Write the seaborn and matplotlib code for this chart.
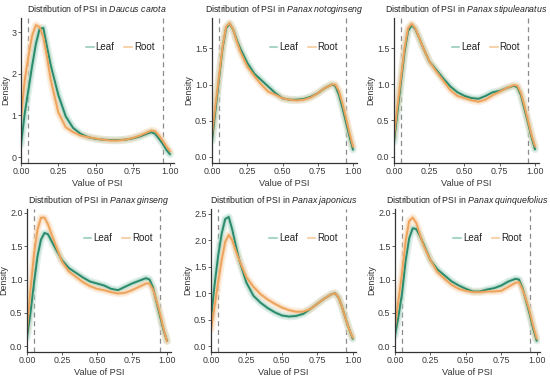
import numpy as np
import pandas as pd
import matplotlib
matplotlib.use("Agg")
import matplotlib.pyplot as plt
import seaborn as sns
from matplotlib.lines import Line2D

sns.set_theme(style="ticks")
plt.rcParams['font.family'] = ['Liberation Sans', 'DejaVu Sans']
plt.rcParams['mathtext.fontset'] = 'custom'
plt.rcParams['mathtext.rm'] = 'Liberation Sans'
plt.rcParams['mathtext.it'] = 'Liberation Sans:italic'

# ---------------- data ----------------
psi = [0, 0.025, 0.05, 0.075, 0.1, 0.125, 0.15, 0.175, 0.2, 0.25, 0.3, 0.35,
       0.4, 0.45, 0.5, 0.55, 0.6, 0.65, 0.7, 0.75, 0.8, 0.85, 0.875, 0.9,
       0.925, 0.95, 0.975, 1.0]

species = ["Daucus carota", "Panax notoginseng", "Panax stipuleanatus",
           "Panax ginseng", "Panax japonicus", "Panax quinquefolius"]
tissues = ["Leaf", "Root"]

daucus_leaf = [0.30, 1.05, 1.62, 2.20, 2.72, 3.08, 3.10, 2.64, 2.20, 1.50, 0.98, 0.70,
               0.56, 0.48, 0.44, 0.42, 0.41, 0.41, 0.42, 0.45, 0.50, 0.57, 0.60, 0.56,
               0.45, 0.33, 0.18, 0.07]
daucus_root = [0.95, 1.85, 2.42, 2.92, 3.17, 3.12, 2.88, 2.40, 1.85, 1.08, 0.72, 0.60,
               0.52, 0.48, 0.45, 0.42, 0.40, 0.40, 0.42, 0.46, 0.52, 0.60, 0.64, 0.62,
               0.52, 0.40, 0.26, 0.14]

noto_leaf = [0.22, 0.65, 1.08, 1.50, 1.78, 1.84, 1.76, 1.62, 1.50, 1.30, 1.15, 1.06,
             0.97, 0.88, 0.81, 0.79, 0.79, 0.80, 0.83, 0.88, 0.95, 1.00, 0.98, 0.86,
             0.68, 0.48, 0.28, 0.10]
noto_root = [0.30, 0.72, 1.12, 1.52, 1.80, 1.85, 1.76, 1.60, 1.46, 1.25, 1.12, 1.00,
             0.90, 0.86, 0.81, 0.79, 0.78, 0.79, 0.82, 0.88, 0.95, 1.00, 1.00, 0.91,
             0.74, 0.54, 0.33, 0.14]

stip_leaf = [0.20, 0.62, 1.04, 1.45, 1.74, 1.82, 1.77, 1.66, 1.54, 1.32, 1.20, 1.08,
             0.97, 0.89, 0.84, 0.81, 0.80, 0.84, 0.89, 0.91, 0.95, 0.98, 0.96, 0.85,
             0.66, 0.47, 0.27, 0.10]
stip_root = [0.27, 0.70, 1.10, 1.50, 1.78, 1.84, 1.78, 1.66, 1.54, 1.32, 1.18, 1.05,
             0.92, 0.84, 0.81, 0.78, 0.76, 0.79, 0.85, 0.90, 0.95, 0.99, 0.98, 0.88,
             0.70, 0.50, 0.30, 0.14]

gins_leaf = [0.13, 0.50, 0.95, 1.35, 1.60, 1.70, 1.68, 1.58, 1.48, 1.29, 1.17, 1.10,
             1.03, 0.97, 0.94, 0.91, 0.86, 0.84, 0.89, 0.94, 0.98, 1.02, 1.00, 0.88,
             0.66, 0.45, 0.24, 0.08]
gins_root = [0.22, 0.85, 1.38, 1.75, 1.93, 1.93, 1.83, 1.68, 1.54, 1.27, 1.12, 1.04,
             0.96, 0.90, 0.86, 0.84, 0.81, 0.79, 0.80, 0.84, 0.89, 0.94, 0.94, 0.85,
             0.68, 0.49, 0.26, 0.07]

japo_leaf = [0.52, 1.15, 1.70, 2.12, 2.40, 2.44, 2.20, 1.90, 1.62, 1.20, 0.95, 0.82,
             0.72, 0.64, 0.58, 0.56, 0.57, 0.61, 0.70, 0.80, 0.90, 0.98, 1.00, 0.92,
             0.74, 0.52, 0.32, 0.14]
japo_root = [0.32, 0.75, 1.20, 1.62, 1.97, 2.10, 2.00, 1.80, 1.62, 1.30, 1.12, 0.98,
             0.88, 0.80, 0.73, 0.68, 0.65, 0.65, 0.70, 0.80, 0.90, 0.98, 1.00, 0.92,
             0.74, 0.52, 0.32, 0.16]

quin_leaf = [0.16, 0.45, 0.80, 1.28, 1.62, 1.77, 1.76, 1.66, 1.54, 1.29, 1.15, 1.06,
             0.97, 0.91, 0.86, 0.82, 0.82, 0.85, 0.87, 0.91, 0.97, 1.01, 1.00, 0.87,
             0.68, 0.48, 0.26, 0.08]
quin_root = [0.28, 0.70, 1.10, 1.58, 1.88, 1.93, 1.85, 1.68, 1.52, 1.29, 1.11, 1.01,
             0.92, 0.86, 0.83, 0.81, 0.81, 0.82, 0.82, 0.83, 0.89, 0.95, 0.96, 0.85,
             0.70, 0.52, 0.30, 0.11]

leaf_series = [daucus_leaf, noto_leaf, stip_leaf, gins_leaf, japo_leaf, quin_leaf]
root_series = [daucus_root, noto_root, stip_root, gins_root, japo_root, quin_root]

y_ticks = [[0, 1, 2, 3], [0.0, 0.5, 1.0, 1.5], [0.0, 0.5, 1.0, 1.5],
           [0.0, 0.5, 1.0, 1.5, 2.0], [0.0, 0.5, 1.0, 1.5, 2.0, 2.5],
           [0.0, 0.5, 1.0, 1.5, 2.0]]
y_ticklabels = [["0", "1", "2", "3"], ["0.0", "0.5", "1.0", "1.5"],
                ["0.0", "0.5", "1.0", "1.5"],
                ["0.0", "0.5", "1.0", "1.5", "2.0"],
                ["0.0", "0.5", "1.0", "1.5", "2.0", "2.5"],
                ["0.0", "0.5", "1.0", "1.5", "2.0"]]
x_ticks = [0.0, 0.25, 0.5, 0.75, 1.0]
x_ticklabels = ["0.00", "0.25", "0.50", "0.75", "1.00"]
cutoffs = [0.05, 0.95]

# ---------------- layout / style ----------------
W, H = 550, 379
fig = plt.figure(figsize=(W / 100, H / 100), dpi=100)

# (left_px, top_px, unit_px_x, height_px)
boxes = [(21, 18, 149, 145), (212, 18, 141, 145), (394, 18, 141, 145),
         (27, 209, 140, 143), (211, 209, 141.7, 143), (395, 209, 141.7, 143)]
ylims = [(-0.14, 3.34), (-0.085, 1.92), (-0.09, 1.92),
         (-0.09, 2.06), (-0.11, 2.59), (-0.09, 2.06)]
XMAX = 1.025

palette = {"Leaf": "#2a8a6c", "Root": "#eda35c"}
glow = {"Leaf": "#a9d6c4", "Root": "#f7d3ad"}

for i, sp in enumerate(species):
    lp, tp, ux, hp = boxes[i]
    wp = ux * XMAX
    ax = fig.add_axes([lp / W, 1 - (tp + hp) / H, wp / W, hp / H])
    df = pd.DataFrame({
        "psi": psi * 2,
        "density": leaf_series[i] + root_series[i],
        "tissue": ["Leaf"] * len(psi) + ["Root"] * len(psi),
    })
    # soft halo under the lines
    sns.lineplot(data=df, x="psi", y="density", hue="tissue", palette=glow,
                 linewidth=5.5, alpha=0.35, legend=False, ax=ax, sort=False)
    sns.lineplot(data=df, x="psi", y="density", hue="tissue", palette=glow,
                 linewidth=3.2, alpha=0.6, legend=False, ax=ax, sort=False)
    sns.lineplot(data=df, x="psi", y="density", hue="tissue", palette=palette,
                 linewidth=1.4, legend=False, ax=ax, sort=False)
    for c in cutoffs:
        ax.axvline(c, color="#8a8a8a", linestyle=(0, (4, 3)), linewidth=0.9,
                   zorder=0)
    ax.set_xlim(0, XMAX)
    ax.set_ylim(*ylims[i])
    ax.set_xticks(x_ticks)
    ax.set_xticklabels(x_ticklabels)
    ax.set_yticks(y_ticks[i])
    ax.set_yticklabels(y_ticklabels[i])
    ax.tick_params(axis="both", labelsize=6.4, length=2, width=0.6,
                   colors="#444444", pad=1.2)
    ax.tick_params(axis="both", labelcolor="#3a3a3a")
    for s in ["top", "right"]:
        ax.spines[s].set_visible(False)
    for s in ["left", "bottom"]:
        ax.spines[s].set_color("#333333")
        ax.spines[s].set_linewidth(0.9)
    ax.set_xlabel("Value of PSI", fontsize=6.6, color="#333333", labelpad=1.5)
    ax.set_ylabel("Density", fontsize=6.4, color="#333333", labelpad=1)
    name = sp.replace(" ", r"\ ")
    ax.set_title(r"Distribution of PSI in $\it{" + name + "}$",
                 fontsize=6.3, color="#222222", pad=4)
    handles = [Line2D([0], [0], color=glow[t], linewidth=1.5) for t in tissues]
    ax.legend(handles, tissues, loc="upper right", bbox_to_anchor=(0.9, 0.86),
              ncol=2, frameon=False, fontsize=7, handlelength=0.8,
              handletextpad=0.2, columnspacing=1.0, borderaxespad=0,
              labelcolor="#222222")

fig.savefig("out.png", dpi=100)
